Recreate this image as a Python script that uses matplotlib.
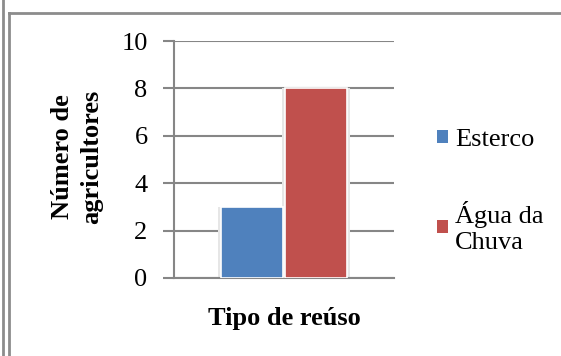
import matplotlib.pyplot as plt
from matplotlib.lines import Line2D
from matplotlib.patches import Patch

plt.rcParams['font.family'] = ['Liberation Serif', 'DejaVu Serif']

# dados
series = ['Esterco', 'Água da\nChuva']
valores = [3, 8]
cores = ['#4F81BD', '#C0504D']
yticks = [0, 2, 4, 6, 8, 10]

W, H = 561, 356
fig = plt.figure(figsize=(W / 100, H / 100), dpi=100)
ax = fig.add_axes([174 / W, 1 - 278 / H, (394 - 174) / W, (278 - 41) / H])

largura = 0.28
offsets = [-0.145, 0.145]
for v, c, dx in zip(valores, cores, offsets):
    # sombra clara em volta da barra
    ax.bar(dx, v, width=largura + 0.03, color='#e6e6e6', edgecolor='none', zorder=2)
    ax.bar(dx, v, width=largura, color=c, edgecolor='white', linewidth=1.2, zorder=3)

ax.set_xlim(-0.5, 0.5)
ax.set_ylim(0, 10)
ax.set_yticks(yticks)
ax.set_xticks([])
ax.tick_params(axis='y', length=8, width=1.5, color='#868686', labelsize=19, pad=11)
ax.grid(True, axis='y', color='#868686', linewidth=1.5, zorder=0)
for s in ['top', 'right']:
    ax.spines[s].set_visible(False)
ax.spines['left'].set_color('#868686')
ax.spines['left'].set_linewidth(1.5)
ax.spines['bottom'].set_color('#868686')
ax.spines['bottom'].set_linewidth(1.5)
ax.set_axisbelow(True)

fig.text(284 / W, 1 - 318 / H, 'Tipo de reúso', ha='center', va='center',
         fontsize=19, fontweight='bold')
fig.text(77 / W, 1 - 157 / H, 'Número de\nagricultores', ha='center', va='center',
         rotation=90, fontsize=19, fontweight='bold', linespacing=1.3)

# legenda
handles = [Patch(facecolor=c, edgecolor='none') for c in cores]
leg = fig.legend(handles, series, loc='upper left', bbox_to_anchor=(437 / W, 1 - 129 / H),
                 frameon=False, fontsize=19, handlelength=0.42, handleheight=0.42,
                 handletextpad=0.27, labelspacing=1.9, borderpad=0, borderaxespad=0)
for t in leg.get_texts():
    t.set_linespacing(1.2)

# moldura
cor_moldura = '#8c8c8c'
fig.add_artist(Line2D([2.5 / W, 2.5 / W], [0, 1], transform=fig.transFigure,
                      color=cor_moldura, linewidth=2))
fig.add_artist(Line2D([8.5 / W, 8.5 / W], [0, 1 - 12.5 / H], transform=fig.transFigure,
                      color=cor_moldura, linewidth=2))
fig.add_artist(Line2D([8.5 / W, 560 / W], [1 - 12.5 / H, 1 - 12.5 / H],
                      transform=fig.transFigure, color=cor_moldura, linewidth=2))

fig.savefig('out.png', dpi=100)
